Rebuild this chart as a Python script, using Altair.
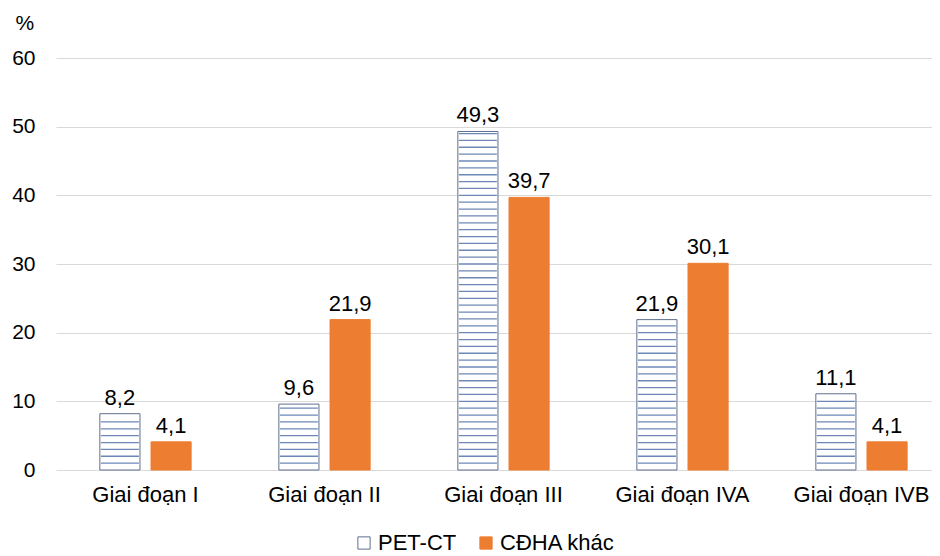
import altair as alt
import pandas as pd

categories = ["Giai đoạn I", "Giai đoạn II", "Giai đoạn III", "Giai đoạn IVA", "Giai đoạn IVB"]
series = ["PET-CT", "CĐHA khác"]
pet_ct = [8.2, 9.6, 49.3, 21.9, 11.1]
cdha = [4.1, 21.9, 39.7, 30.1, 4.1]
y_ticks = [0, 10, 20, 30, 40, 50, 60]

rows = []
for c, a, b in zip(categories, pet_ct, cdha):
    rows.append({"cat": c, "series": series[0], "value": a})
    rows.append({"cat": c, "series": series[1], "value": b})
df = pd.DataFrame(rows)

# horizontal hatch lines inside the PET-CT bars, one per unit
stripe_rows = []
for c, a in zip(categories, pet_ct):
    for k in range(1, int(a - 0.3) + 1):
        stripe_rows.append({"cat": c, "series": series[0], "k": k})
stripes = pd.DataFrame(stripe_rows)

FONT = "Liberation Sans"

x_enc = alt.X(
    "cat:N", sort=categories,
    scale=alt.Scale(paddingInner=0.49, paddingOuter=0.192, align=0.638),
    axis=alt.Axis(title=None, domain=False, ticks=False, labelAngle=0,
                  labelFontSize=22, labelFont=FONT, labelColor="#000000",
                  labelPadding=14),
)
xo_enc = alt.XOffset("series:N", sort=series,
                     scale=alt.Scale(domain=series, paddingInner=0.216, paddingOuter=0))
y_scale = alt.Scale(domain=[0, 60], nice=False)

legend = alt.Legend(title=None, orient="none", legendX=297, legendY=474,
                    direction="horizontal", padding=0,
                    labelFontSize=22, labelFont=FONT, labelColor="#000000",
                    symbolType="square", symbolSize=150, symbolStrokeWidth=1,
                    columnPadding=18, labelOffset=3)

bars = alt.Chart(df).mark_bar(strokeWidth=1).encode(
    x=x_enc,
    xOffset=xo_enc,
    y=alt.Y("value:Q", scale=y_scale,
            axis=alt.Axis(values=y_ticks, title="%", titleAngle=0, titleAlign="left",
                          titleBaseline="alphabetic", titleX=-41, titleY=-29,
                          titleFontSize=21, titleFont=FONT, titleFontWeight="normal",
                          titleColor="#000000",
                          domain=False, ticks=False, gridColor="#d9d9d9",
                          labelFontSize=21, labelFont=FONT, labelColor="#000000",
                          labelPadding=21)),
    fill=alt.Fill("series:N", sort=series,
                  scale=alt.Scale(domain=series, range=["#ffffff", "#ED7D31"]),
                  legend=legend),
    stroke=alt.Stroke("series:N", sort=series,
                      scale=alt.Scale(domain=series, range=["#5f6f8f", "#ED7D31"]),
                      legend=legend),
)

hatch = alt.Chart(stripes).mark_tick(color="#2F5597", thickness=1.3, size=38).encode(
    x=alt.X("cat:N", sort=categories),
    xOffset=alt.XOffset("series:N", sort=series),
    y=alt.Y("k:Q", scale=y_scale),
)

labels = alt.Chart(df).transform_calculate(
    lbl="replace(format(datum.value, '.1f'), '.', ',')"
).mark_text(dy=-9, baseline="alphabetic", fontSize=22, font=FONT, color="#000000").encode(
    x=alt.X("cat:N", sort=categories),
    xOffset=alt.XOffset("series:N", sort=series),
    y=alt.Y("value:Q", scale=y_scale),
    text="lbl:N",
)

chart = alt.layer(bars, hatch, labels).properties(
    width=876, height=412,
    padding={"left": 3, "top": 4, "right": 0, "bottom": 0},
).configure_view(stroke=None)

chart.save("out.html", embed_options={"renderer": "svg", "actions": False})
